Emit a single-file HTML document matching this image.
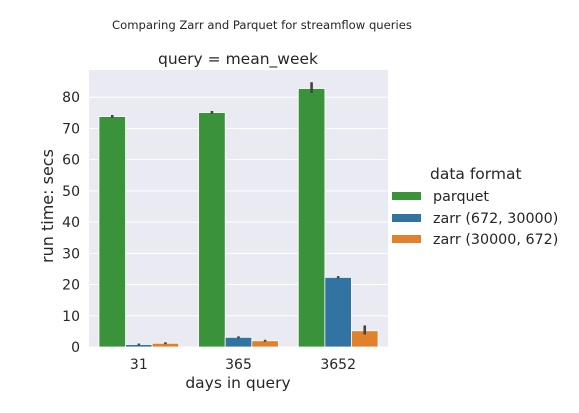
<!DOCTYPE html>
<html><head><meta charset="utf-8"><style>
html,body{margin:0;padding:0;background:#fff;}
svg text{font-family:"DejaVu Sans","Liberation Sans",sans-serif;fill:#262626;}
</style></head><body>
<svg width="579" height="408" xmlns="http://www.w3.org/2000/svg">
<text x="262" y="29" font-size="11.6" text-anchor="middle">Comparing Zarr and Parquet for streamflow queries</text>
<text x="238" y="64" font-size="15.5" text-anchor="middle">query = mean_week</text>
<rect x="89" y="70" width="299" height="277" fill="#eaeaf2"/>
<g id="grid"></g>
<g id="bars"></g>
<g id="ticks"></g>
<text x="238" y="388" font-size="15.5" text-anchor="middle">days in query</text>
<text transform="translate(53,206) rotate(-90)" font-size="16" text-anchor="middle">run time: secs</text>
<g>
<text x="430" y="179" font-size="15.5">data format</text>
<g><rect x="392" y="192" width="29" height="8" fill="#3a923a"/><text x="433" y="201" font-size="14.3">parquet</text></g>
<g><rect x="392" y="214" width="29" height="8" fill="#3274a1"/><text x="433" y="223" font-size="14.3">zarr (672, 30000)</text></g>
<g><rect x="392" y="235" width="29" height="8" fill="#e1812c"/><text x="433" y="244" font-size="14.3">zarr (30000, 672)</text></g>
</g>
</svg>
<script>
const categories=["31","365","3652"];
const seriesNames=["parquet","zarr (672, 30000)","zarr (30000, 672)"];
const parquet=[73.8,75.1,82.8];
const zarrA=[0.8,3.1,22.3];
const zarrB=[1.2,2.0,5.2];
const errLo=[[73.4,74.7,81.4],[0.5,2.8,22.0],[0.9,1.7,4.0]];
const errHi=[[74.3,75.6,84.8],[1.1,3.4,22.7],[1.5,2.3,6.9]];
const yTicks=[0,10,20,30,40,50,60,70,80];
const colors=["#3a923a","#3274a1","#e1812c"];
const NS="http://www.w3.org/2000/svg";
const x0=89,x1=388,y0=347,yPer=3.122;
const Y=v=>y0-v*yPer;
const step=(x1-x0)/categories.length;
const X=i=>x0+step*(i+0.5);
const grid=document.getElementById('grid'),bars=document.getElementById('bars'),ticks=document.getElementById('ticks');
yTicks.forEach(t=>{
 const l=document.createElementNS(NS,'line');
 l.setAttribute('x1',x0);l.setAttribute('x2',x1);l.setAttribute('y1',Y(t));l.setAttribute('y2',Y(t));
 l.setAttribute('stroke','#fff');l.setAttribute('stroke-width','1');
 
 
 grid.appendChild(l);
 const tx=document.createElementNS(NS,'text');
 tx.setAttribute('x',80);tx.setAttribute('y',Y(t)+5);tx.setAttribute('font-size','14');tx.setAttribute('text-anchor','end');
 tx.textContent=t;
 
 
 ticks.appendChild(tx);
});
categories.forEach((c,i)=>{
 const tx=document.createElementNS(NS,'text');
 tx.setAttribute('x',X(i));tx.setAttribute('y',369);tx.setAttribute('font-size','14');tx.setAttribute('text-anchor','middle');
 tx.textContent=c;
 
 
 ticks.appendChild(tx);
});
const series=[parquet,zarrA,zarrB];
const bw=step*0.8/3;
series.forEach((s,k)=>{
 s.forEach((v,i)=>{
  const bx=X(i)-step*0.4+k*bw;
  const r=document.createElementNS(NS,'rect');
  r.setAttribute('x',bx);r.setAttribute('y',Y(v));r.setAttribute('width',bw);r.setAttribute('height',y0-Y(v));
  r.setAttribute('fill',colors[k]);r.setAttribute('stroke','#fff');r.setAttribute('stroke-width','0.8');
  
  
  bars.appendChild(r);
  const e=document.createElementNS(NS,'line');
  e.setAttribute('x1',bx+bw/2);e.setAttribute('x2',bx+bw/2);e.setAttribute('y1',Y(errLo[k][i]));e.setAttribute('y2',Y(errHi[k][i]));
  e.setAttribute('stroke','#424242');e.setAttribute('stroke-width','2.6');
  
  
  bars.appendChild(e);
 });
});
</script>
</body></html>
